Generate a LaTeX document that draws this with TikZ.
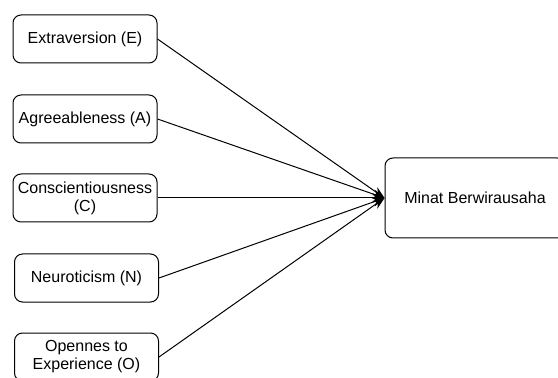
\documentclass[tikz,border=0pt]{standalone}
\usepackage{fontspec}
\setmainfont{Liberation Sans}
\usetikzlibrary{arrows.meta}

\tikzset{
  trait/.style={draw, rounded corners=6pt, line width=0.75pt, minimum width=108pt,
    minimum height=36pt, align=center, inner sep=1pt, font=\fontsize{12}{13.5}\selectfont},
  target/.style={trait, minimum width=135pt, minimum height=60pt},
  link/.style={line width=0.75pt, -{Stealth[length=9pt,width=7pt]}}
}

\begin{document}
\begin{tikzpicture}[x=0.75pt,y=-0.75pt]
\clip (0,0) rectangle (558,378);

\node[trait] (e) at (85,39) {Extraversion (E)};
\node[trait] (a) at (85,119) {Agreeableness (A)};
\node[trait] (c) at (85,198) {Conscientiousness\\(C)};
\node[trait] (n) at (86.5,278) {Neuroticism (N)};
\node[trait] (o) at (86.5,357) {Opennes to\\Experience (O)};

\node[target] (minat) at (475,198) {Minat Berwirausaha};

\draw[link] (e.east) -- (minat.west);
\draw[link] (a.east) -- (minat.west);
\draw[link] (c.east) -- (minat.west);
\draw[link] (n.east) -- (minat.west);
\draw[link] (o.east) -- (minat.west);
\end{tikzpicture}
\end{document}
